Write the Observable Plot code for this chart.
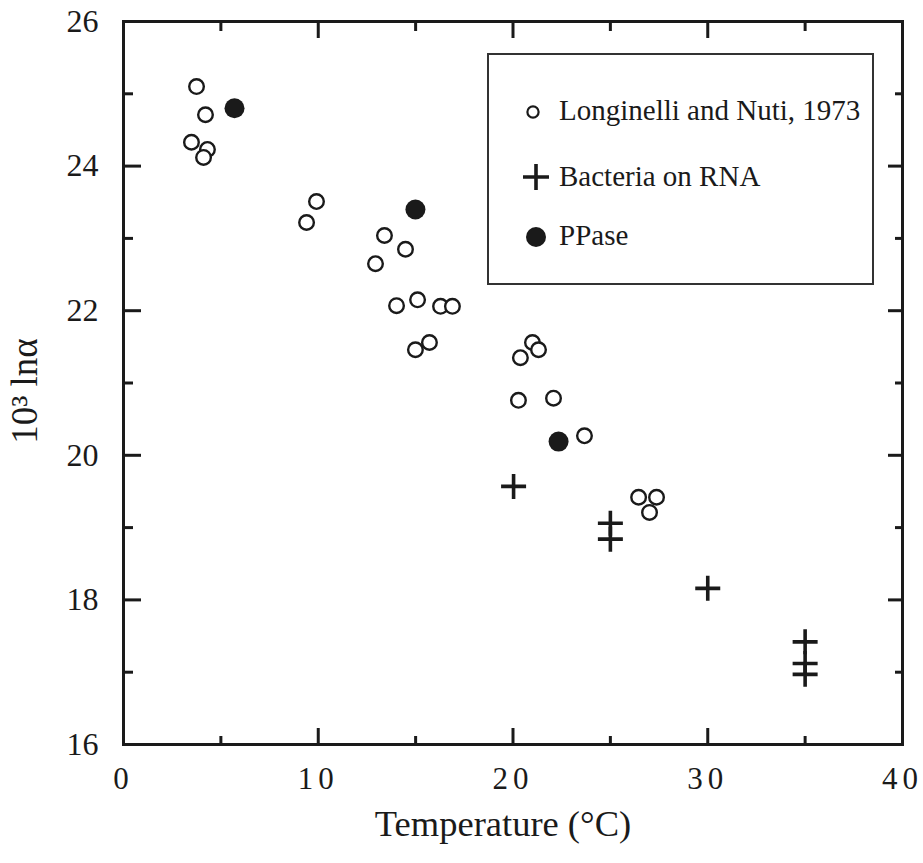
<!DOCTYPE html>
<html>
<head>
<meta charset="utf-8">
<script src="https://cdn.jsdelivr.net/npm/d3@7"></script>
<script src="https://cdn.jsdelivr.net/npm/@observablehq/plot@0.6"></script>
<style>
  html, body { margin: 0; padding: 0; background: #fff; }
  #wrap { position: relative; width: 923px; height: 863px; }
  #wrap svg text { font-family: "Liberation Serif", "Times New Roman", serif; }
  g[aria-label="x-axis tick label"] text { letter-spacing: 5px; }
  #legend {
    position: absolute; left: 487px; top: 53px; width: 387px; height: 232px;
    box-sizing: border-box; border: 2px solid #333; background: #fff;
  }
  #legend svg text { font-family: "Liberation Serif", "Times New Roman", serif; font-size: 29px; fill: #1a1a1a; }
</style>
</head>
<body>
<div id="wrap"></div>
<script>
// Longinelli and Nuti, 1973 (open circles)
const lnTemp = [3.75, 4.21, 3.49, 4.31, 4.11, 9.40, 9.91, 13.40, 12.94, 14.48, 14.02, 15.10, 16.28, 16.89, 14.99, 15.71, 21.00, 21.31, 20.38, 20.28, 22.08, 23.67, 26.45, 27.37, 27.01];
const lnAlpha = [25.10, 24.71, 24.33, 24.23, 24.12, 23.22, 23.51, 23.04, 22.65, 22.85, 22.07, 22.15, 22.06, 22.06, 21.46, 21.56, 21.56, 21.46, 21.35, 20.76, 20.79, 20.27, 19.42, 19.42, 19.21];
// Bacteria on RNA (plus)
const bacTemp = [20.03, 25, 25, 30, 35, 35, 35];
const bacAlpha = [19.57, 19.06, 18.84, 18.16, 17.42, 17.12, 16.97];
// PPase (filled circles)
const ppTemp = [5.70, 14.99, 22.34];
const ppAlpha = [24.80, 23.40, 20.19];

const xMajor = [0, 10, 20, 30, 40];
const xMinor = [5, 15, 25, 35];
const yMajor = [16, 18, 20, 22, 24, 26];
const yMinor = [17, 19, 21, 23, 25];
const seriesNames = ["Longinelli and Nuti, 1973", "Bacteria on RNA", "PPase"];
const xLabel = "Temperature (°C)";
const yLabel = "10³ lnα";

const ink = "#1a1a1a";
const lnData = lnTemp.map((t, i) => ({t, a: lnAlpha[i]}));
const bacData = bacTemp.map((t, i) => ({t, a: bacAlpha[i]}));
const ppData = ppTemp.map((t, i) => ({t, a: ppAlpha[i]}));

const thinPlus = {
  draw(context, size) {
    const r = Math.sqrt(size / Math.PI);
    context.moveTo(-r, 0); context.lineTo(r, 0);
    context.moveTo(0, -r); context.lineTo(0, r);
  }
};

const tickStyle = {stroke: ink, strokeWidth: 3, fill: "none", label: null};

const chart = Plot.plot({
  width: 923,
  height: 863,
  marginLeft: 123,
  marginRight: 21,
  marginTop: 21,
  marginBottom: 119,
  style: {fontFamily: "Liberation Serif, Times New Roman, serif", fontSize: "32px", color: ink, background: "#fff"},
  x: {domain: [0, 40]},
  y: {domain: [16, 26]},
  marks: [
    // tick labels
    Plot.axisX({ticks: xMajor, tickSize: 0, tickPadding: 22, fontSize: 31, label: null, fill: ink}),
    Plot.axisY({ticks: yMajor, tickSize: 0, tickPadding: 25, fontSize: 32, label: null, fill: ink}),
    // inward ticks on all four sides
    Plot.axisX({anchor: "bottom", ticks: xMajor, tickSize: -16, ...tickStyle}),
    Plot.axisX({anchor: "bottom", ticks: xMinor, tickSize: -8, ...tickStyle}),
    Plot.axisX({anchor: "top", ticks: xMajor, tickSize: -16, ...tickStyle}),
    Plot.axisX({anchor: "top", ticks: xMinor, tickSize: -9, ...tickStyle}),
    Plot.axisY({anchor: "left", ticks: yMajor, tickSize: -18, ...tickStyle}),
    Plot.axisY({anchor: "left", ticks: yMinor, tickSize: -10, ...tickStyle}),
    Plot.axisY({anchor: "right", ticks: yMajor, tickSize: -15, ...tickStyle}),
    Plot.axisY({anchor: "right", ticks: yMinor, tickSize: -8, ...tickStyle}),
    Plot.frame({stroke: ink, strokeWidth: 3}),
    // axis titles
    Plot.text([xLabel], {frameAnchor: "bottom", lineAnchor: "bottom", textAnchor: "middle", dy: 91, dx: -10, fontSize: 36.5, fill: ink}),
    Plot.text([yLabel], {frameAnchor: "left", textAnchor: "middle", lineAnchor: "middle", rotate: -90, dx: -98, dy: 8, fontSize: 37, fill: ink}),
    // data
    Plot.dot(lnData, {x: "t", y: "a", r: 7.3, stroke: ink, strokeWidth: 2.4, fill: "#fff"}),
    Plot.dot(ppData, {x: "t", y: "a", r: 10, fill: ink, stroke: "none"}),
    Plot.dot(bacData, {x: "t", y: "a", r: 12.5, symbol: thinPlus, stroke: ink, strokeWidth: 3.6, fill: "none"})
  ]
});

const wrap = document.getElementById("wrap");
wrap.appendChild(chart);

const legend = document.createElement("div");
legend.id = "legend";
legend.innerHTML = `
<svg width="383" height="228" viewBox="0 0 383 228">
  <circle cx="44" cy="57" r="5.6" fill="#fff" stroke="${ink}" stroke-width="2.2"></circle>
  <text x="70" y="65">${seriesNames[0]}</text>
  <path d="M34,122 H60 M47,109 V135" stroke="${ink}" stroke-width="3.6" fill="none"></path>
  <text x="70" y="131">${seriesNames[1]}</text>
  <circle cx="47" cy="182" r="10" fill="${ink}"></circle>
  <text x="70" y="190">${seriesNames[2]}</text>
</svg>`;
wrap.appendChild(legend);
</script>
</body>
</html>
